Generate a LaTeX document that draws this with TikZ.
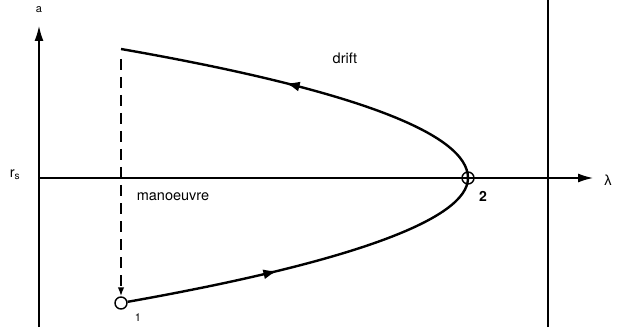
\documentclass[tikz,border=0pt]{standalone}
\usepackage{fontspec}
\setmainfont{TeX Gyre Heros}
\newfontfamily\grk{Liberation Sans}
\usetikzlibrary{arrows.meta,positioning,calc,decorations.markings}

\begin{document}
\begin{tikzpicture}[x=1pt,y=1pt,>=Latex,
  axis/.style={line width=1.3pt},
  orbit/.style={line width=2.4pt},
  lab/.style={inner sep=1pt,font=\fontsize{14.5}{16}\selectfont},
  small/.style={inner sep=1pt,font=\fontsize{11}{13}\selectfont},
  state/.style={circle,draw,line width=1.4pt,inner sep=0pt,minimum size=12pt},
  midarrow/.style={postaction={decorate,decoration={markings,
    mark=at position #1 with {\arrow{Latex[length=14pt,width=10pt]}}}}}]
\useasboundingbox (0,0) rectangle (629,327);
% axes
\coordinate (o) at (39,149);
\coordinate (ytip) at (39,301);
\coordinate (xtip) at (593,149);
\coordinate (ybot) at (39,0);
\draw[axis,-{Latex[length=15pt,width=9pt]}] (ybot) -- (ytip);
\draw[axis,-{Latex[length=15pt,width=9pt]}] (o) -- (xtip);
\node (alab) [small] at (39,317) {a};
\node (rs) [lab] at (15,152) {r$_{\mathrm{s}}$};
\node (lam) [lab] at (608,147) {\grk λ};
% boundary
\coordinate (bt) at (548,327);
\coordinate (bb) at (548,0);
\draw[axis] (bb) -- (bt);
% states
\node (s2) [state] at (468,149) {};
\node (s1) [state,fill=white] at (121,24) {};
\coordinate (top) at (121,278);
\coordinate (dtop) at (121,268);
\node (n2) [lab,font=\fontsize{14}{16}\selectfont\bfseries] at (483,131) {2};
\node (n1) [small] at (138,9) {1};
% orbit
\draw[orbit,midarrow=0.56] (s2.center) .. controls (468,194) and (350,238) .. (top);
\draw[orbit,midarrow=0.41] (s1) .. controls (352,65) and (468,108) .. (s2.center);
\draw[line width=1.6pt,dash pattern=on 11pt off 7pt,-{Latex[length=9pt,width=6.5pt]}] (dtop) -- (s1);
\node (drift) [lab] at (345,269) {drift};
\node (man) [lab] at (173,130) {manoeuvre};
\end{tikzpicture}
\end{document}
